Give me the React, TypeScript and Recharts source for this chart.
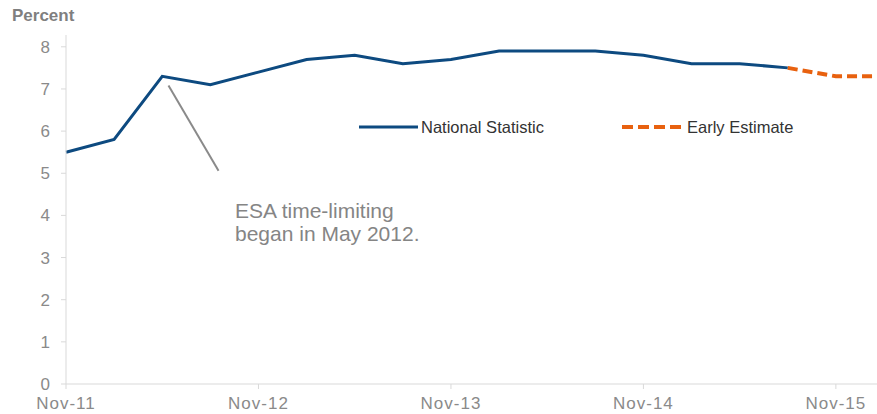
import {
  LineChart,
  Line,
  XAxis,
  YAxis,
  ReferenceLine,
} from "recharts";

// quarterly figures, Nov-11 onwards
const quarters = [
  "Nov-11", "Feb-12", "May-12", "Aug-12",
  "Nov-12", "Feb-13", "May-13", "Aug-13",
  "Nov-13", "Feb-14", "May-14", "Aug-14",
  "Nov-14", "Feb-15", "May-15", "Aug-15",
  "Nov-15", "Feb-16",
];
const nationalStatistic = [
  5.5, 5.8, 7.3, 7.1, 7.4, 7.7, 7.8, 7.6,
  7.7, 7.9, 7.9, 7.9, 7.8, 7.6, 7.6, 7.5,
];
// early estimate picks up from the last national figure
const earlyEstimateStart = 15;
const earlyEstimate = [7.5, 7.3, 7.3];
const yTicks = [0, 1, 2, 3, 4, 5, 6, 7, 8];
const xTicks = [0, 4, 8, 12, 16];

const data = quarters.map((label, i) => ({
  q: i,
  label,
  national: i < nationalStatistic.length ? nationalStatistic[i] : null,
  estimate:
    i >= earlyEstimateStart ? earlyEstimate[i - earlyEstimateStart] : null,
}));

const NAVY = "#0d4a80";
const ORANGE = "#e8610f";
const GREY = "#8a8a8a";
const AXIS = "#d9d9d9";
const FONT = "'Liberation Sans', Arial, sans-serif";

function LegendBox() {
  return (
    <div style={{ position: "absolute", left: 359, top: 116, height: 22 }}>
      <div style={{ position: "absolute", left: 0, top: 0, display: "flex", alignItems: "center", whiteSpace: "nowrap" }}>
        <svg width={60} height={22}>
          <line x1={0} y1={11} x2={59} y2={11} stroke={NAVY} strokeWidth={3} />
        </svg>
        <span style={{ marginLeft: 2, fontSize: 16.5, color: "#333" }}>National Statistic</span>
      </div>
      <div style={{ position: "absolute", left: 263, top: 0, display: "flex", alignItems: "center", whiteSpace: "nowrap" }}>
        <svg width={62} height={22}>
          <line
            x1={0}
            y1={11}
            x2={61}
            y2={11}
            stroke={ORANGE}
            strokeWidth={4}
            strokeDasharray="11 5"
          />
        </svg>
        <span style={{ marginLeft: 3, fontSize: 16.5, color: "#333" }}>Early Estimate</span>
      </div>
    </div>
  );
}

export default function App() {
  return (
    <div
      style={{
        position: "fixed",
        left: 0,
        top: 0,
        width: 877,
        height: 414,
        overflow: "hidden",
        background: "#fff",
        fontFamily: FONT,
      }}
    >
      <div
        style={{
          position: "absolute",
          left: 12,
          top: 7,
          fontSize: 17,
          lineHeight: 1,
          fontWeight: "bold",
          color: "#7f7f7f",
        }}
      >
        Percent
      </div>

      <LineChart
        width={900}
        height={414}
        data={data}
        margin={{ top: 35, right: 16, left: 0, bottom: 0 }}
      >
        <XAxis
          dataKey="q"
          type="number"
          domain={[0, 17]}
          ticks={xTicks}
          interval={0}
          tickFormatter={(v: number) => quarters[v]}
          stroke={AXIS}
          tickSize={5}
          tickMargin={8}
          height={30}
          tick={{ fill: GREY, fontSize: 17, letterSpacing: 1 }}
        />
        <YAxis
          type="number"
          domain={[0, 8.28]}
          ticks={yTicks}
          interval={0}
          width={66}
          stroke={AXIS}
          tickSize={5}
          tickMargin={11}
          tick={{ fill: GREY, fontSize: 17 }}
        />
        <ReferenceLine
          segment={[
            { x: 2.13, y: 7.08 },
            { x: 3.17, y: 5.06 },
          ]}
          stroke={GREY}
          strokeWidth={2}
        />
        <Line
          dataKey="national"
          name="National Statistic"
          stroke={NAVY}
          strokeWidth={3}
          dot={false}
          isAnimationActive={false}
        />
        <Line
          dataKey="estimate"
          name="Early Estimate"
          stroke={ORANGE}
          strokeWidth={4}
          strokeDasharray="10 5"
          dot={false}
          isAnimationActive={false}
        />
      </LineChart>

      <LegendBox />

      <div
        style={{
          position: "absolute",
          left: 235,
          top: 199,
          fontSize: 21,
          lineHeight: "23px",
          color: "#858585",
          whiteSpace: "nowrap",
        }}
      >
        ESA time-limiting
        <br />
        began in May 2012.
      </div>
    </div>
  );
}
